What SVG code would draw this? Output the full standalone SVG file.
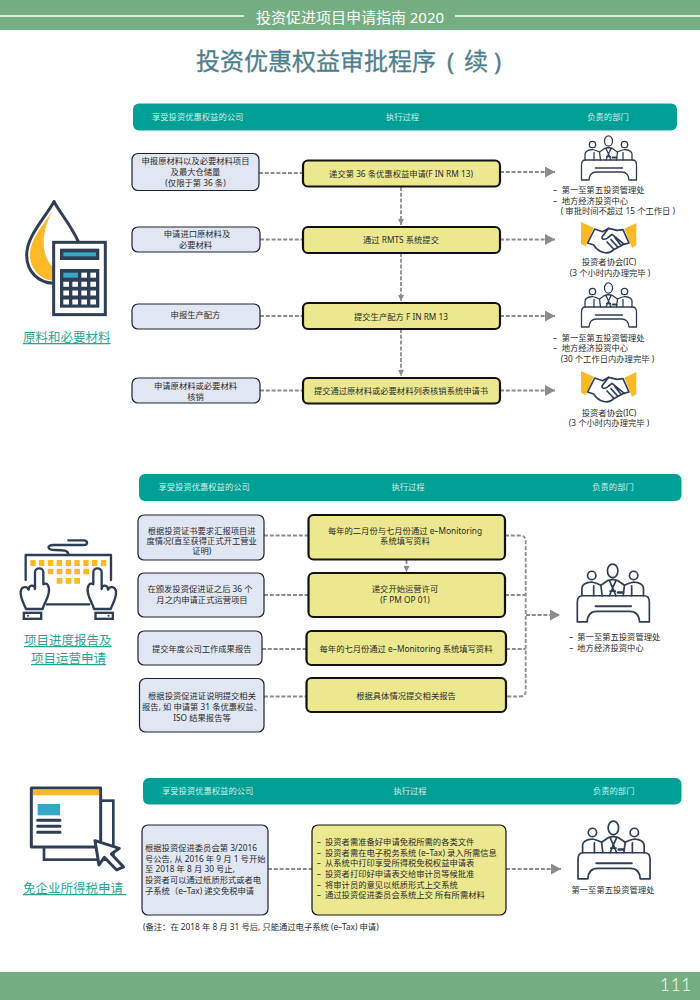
<svg xmlns="http://www.w3.org/2000/svg" width="700" height="1000" viewBox="0 0 700 1000">
<style>
text{font-family:"Noto Sans","Noto Sans CJK SC",sans-serif;font-size:8.3px;fill:#2b2b2b}
.m{text-anchor:middle}
.h{fill:#d4eeea}
.bar{fill:#00a096}
.l{fill:#e1e6f3;stroke:#1e2230;stroke-width:1.2}
.y{fill:#ebe88f;stroke:#111;stroke-width:2.2}
.c{fill:none;stroke:#8c8c8c;stroke-width:1.8;stroke-dasharray:4 1.8}
.sec{font-size:12.5px;fill:#2aa594;text-decoration:underline}
.n{fill:none;stroke:#2e3f55;stroke-width:9;stroke-linecap:round;stroke-linejoin:round}
.n2{fill:none;stroke:#2e3f55;stroke-width:5;stroke-linecap:round;stroke-linejoin:round}
</style>
<defs>
<marker id="a" markerUnits="userSpaceOnUse" markerWidth="11" markerHeight="12" refX="10" refY="5.500" orient="auto"><path d="M0 0L10 5.500L0 11Z" fill="#8c8c8c"/></marker>
<marker id="b" markerUnits="userSpaceOnUse" markerWidth="7" markerHeight="7" refX="6" refY="3" orient="auto"><path d="M0 0L6 3L0 6Z" fill="#8c8c8c"/></marker>
<g id="people" fill="none" stroke="#2e3f55" stroke-width="1.3" stroke-linejoin="round" stroke-linecap="round">
<path d="M1 45V30Q1 25 5 25H52Q56 25 56 30V45H48.500Q48 37 41 37H16Q9 37 8.500 45Z" fill="#fff"/>
<path d="M15 33H42" stroke-width="1.600"/>
<ellipse cx="28" cy="6" rx="4" ry="5.200"/><circle cx="12" cy="9.500" r="3.200"/><circle cx="44" cy="9.500" r="3.200"/>
<path d="M4.500 25V19Q5 16 9 15L12 14.500L15.500 15.500L19 17L20 25M13.500 17.500V25"/>
<path d="M51.500 25V19Q51 16 47 15L44 14.500L40.500 15.500L37 17L36 25M42.500 17.500V25"/>
<path d="M19 17L24 13.500L28 12.500L32 13.500L37 17M25.500 13.500L28 19L30.500 13.500M28 19L25.500 25M28 19L30.500 25M26 21.500H30"/>
<path d="M32 22.500H36" stroke-width="1.800"/>
</g>
<g id="hands">
<g transform="scale(.3333) translate(-692,-395)">
<path d="M692 395L730 412L706 468L692 460Z" fill="#fbb925"/><path d="M858 398L822 415L845 472L858 465Z" fill="#fbb925"/>
<g class="n2"><path d="M733 416L712 458L730 464C745 488 775 495 790 478L820 462L836 458L818 418L800 420L775 414L757 424L733 416Z"/>
<path d="M775 414L755 440C755 450 768 448 775 440L785 432L822 462M770 455L790 476M782 448L802 470M794 442L812 465"/></g>
</g></g>
</defs>

<g id="top-band"><rect width="700" height="30" fill="#75ae80"/><path d="M0 16H244M455 16H700" stroke="#fff" stroke-width="1.500"/><text x="350" y="23" class="m" style="font-size:15px;fill:#fff">投资促进项目申请指南 2020</text></g>
<text id="title" y="70" style="font-size:24px;fill:#4f7f8e;stroke:#4f7f8e;stroke-width:.3"><tspan x="196">投资优惠权益审批程序</tspan><tspan x="447">(</tspan><tspan x="464">续</tspan><tspan x="494">)</tspan></text>
<g id="footer"><rect y="972" width="700" height="28" fill="#75ae80"/><text x="676" y="991" class="m" style="font-family:Lato,sans-serif;font-size:17px;fill:#fff;font-weight:300;letter-spacing:.8px">111</text></g>

<g id="connectors">
<path class="c" d="M259 173H302M260 239.500H302M260 316H302M260 390.500H302"/>
<path class="c" marker-end="url(#a)" d="M500 172H555"/><path class="c" marker-end="url(#a)" d="M500 239.500H555"/><path class="c" marker-end="url(#a)" d="M500 316H555"/><path class="c" marker-end="url(#a)" d="M500 390.500H555"/>
<path class="c" marker-end="url(#b)" d="M401 187V225"/><path class="c" marker-end="url(#b)" d="M401 253V301"/><path class="c" marker-end="url(#b)" d="M401 329V376"/>
<path class="c" d="M264 535.500H308M264 595H308M262 649H306M264 696.500H306"/>
<path class="c" marker-end="url(#b)" d="M406.500 560V572"/>
<path class="c" d="M505 535.500H520Q525.700 535.500 525.700 541V691Q525.700 696.500 520 696.500H506M505 595H525.700M506 649H525.700"/>
<path class="c" marker-end="url(#a)" d="M526 615H560"/>
<path class="c" d="M268 869H312"/>
<path class="c" marker-end="url(#a)" d="M506 869H561"/>
</g>

<g id="section-1">
<g id="s1-header"><rect class="bar" x="133" y="103.500" width="544" height="27" rx="6"/><text class="h" x="152" y="119.500">享受投资优惠权益的公司</text><text class="h m" x="402.500" y="119.500">执行过程</text><text class="h m" x="608" y="119.500">负责的部门</text></g>
<g id="s1-icon"><g transform="translate(0,90) scale(.3333)">
<path d="M162 335C130 390 80 440 80 495C80 545 115 578 160 580" class="n" fill="#fff" style="fill:#fff"/><path d="M162 335C185 375 215 410 235 455" class="n"/>
<path d="M158 362C125 410 90 450 90 495C90 535 120 568 158 572V530C130 505 115 440 158 362Z" fill="#fbb925"/>
<rect x="161" y="457" width="155" height="217" fill="#fff" class="n" style="fill:#fff;stroke-linecap:butt;stroke-linejoin:miter"/>
<rect x="180" y="476" width="118" height="34" fill="#2e3f55"/><rect x="190" y="487" width="98" height="12" fill="#35a8c6"/>
<rect x="180" y="537" width="118" height="116" fill="#2e3f55"/>
<rect x="190" y="548" width="44" height="15" fill="#35a8c6"/><rect x="244" y="548" width="17" height="15" fill="#fff"/><rect x="271" y="548" width="17" height="15" fill="#fff"/>
<path d="M190 583h17M217 583h17M244 583h17M271 583h17M190 609h17M217 609h17M244 609h17M271 609h17M190 636h17M217 636h17M244 636h17M271 636h17" stroke="#fff" stroke-width="15"/>
</g><text class="sec" x="23" y="342">原料和必要材料</text></g>

<g id="s1-a1"><rect class="l" x="132" y="153.500" width="127" height="37" rx="6"/><text class="m" x="195.500" y="164">申报原材料以及必要材料项目</text><text class="m" x="195.500" y="175">及最大仓储量</text><text class="m" x="195.500" y="185.500">(仅限于第 36 条)</text></g>
<g id="s1-a2"><rect class="l" x="132" y="227" width="128" height="25" rx="6"/><text class="m" x="197" y="237">申请进口原材料及</text><text class="m" x="195.500" y="247.700">必要材料</text></g>
<g id="s1-a3"><rect class="l" x="132" y="304" width="128" height="25" rx="6"/><text class="m" x="195.500" y="318">申报生产配方</text></g>
<g id="s1-a4"><rect class="l" x="132" y="378" width="128" height="25" rx="6"/><text class="m" x="195.500" y="389">申请原材料或必要材料</text><text class="m" x="195.500" y="399.500">核销</text></g>

<g id="s1-b1"><rect class="y" x="303" y="160.500" width="197" height="26" rx="5"/><text class="m" x="401" y="177">递交第 36 条优惠权益申请(F IN RM 13)</text></g>
<g id="s1-b2"><rect class="y" x="303" y="227" width="197" height="26" rx="5"/><text class="m" x="401" y="242.500">通过 RMTS 系统提交</text></g>
<g id="s1-b3"><rect class="y" x="303" y="303" width="197" height="26" rx="5"/><text class="m" x="401" y="320">提交生产配方 F IN RM 13</text></g>
<g id="s1-b4"><rect class="y" x="303" y="378" width="197" height="25.500" rx="5"/><text class="m" x="401" y="394">提交通过原材料或必要材料列表核销系统申请书</text></g>

<g id="s1-c1"><use href="#people" transform="translate(580.500,135)"/><text x="553" y="193">–</text><text x="561.700" y="193">第一至第五投资管理处</text><text x="553" y="203.500">–</text><text x="561.700" y="203.500">地方经济投资中心</text><text x="560.700" y="214">( 审批时间不超过 15 个工作日 )</text></g>
<g id="s1-c2"><use href="#hands" transform="translate(581,222)"/><text class="m" x="609" y="264.500">投资者协会(IC)</text><text class="m" x="610" y="275.500">(3 个小时内办理完毕 )</text></g>
<g id="s1-c3"><use href="#people" transform="translate(580.500,282)"/><text x="553" y="340.500">–</text><text x="561.700" y="340.500">第一至第五投资管理处</text><text x="553" y="351">–</text><text x="561.700" y="351">地方经济投资中心</text><text x="560.700" y="362">(30 个工作日内办理完毕 )</text></g>
<g id="s1-c4"><use href="#hands" transform="translate(581,371)"/><text class="m" x="609" y="415.500">投资者协会(IC)</text><text class="m" x="609" y="426">(3 个小时内办理完毕 )</text></g>
</g>

<g id="section-2">
<g id="s2-header"><rect class="bar" x="139" y="474" width="542.500" height="27" rx="6"/><text class="h" x="158.500" y="490">享受投资优惠权益的公司</text><text class="h m" x="408" y="490">执行过程</text><text class="h m" x="613" y="490">负责的部门</text></g>
<g id="s2-icon"><g transform="translate(0,465) scale(.3333)">
<path class="n2" style="stroke-width:7" d="M77 345V270H333V345M140 418H268M205 268C205 255 190 255 165 255C140 255 140 240 160 240H250C265 240 265 226 250 226H205"/>
<g fill="#fbb925"><path d="M91 285h16v18h-16zM117 285h16v18h-16zM144 285h16v18h-16zM170 285h16v18h-16zM197 285h16v18h-16zM223 285h16v18h-16zM250 285h16v18h-16zM276 285h16v18h-16zM303 285h16v18h-16zM143 311h17v17h-17zM170 311h17v17h-17zM197 311h17v17h-17zM223 311h17v17h-17zM250 311h17v17h-17zM170 339h17v17h-17zM197 339h17v17h-17zM223 339h17v17h-17z"/></g>
<g id="kb-hand"><path class="n2" style="stroke-width:7;fill:#fff" d="M78 432C70 412 60 398 62 380C64 364 80 362 86 374C86 358 104 358 105 372V322C105 306 130 306 130 322V358C142 350 150 365 146 385C142 405 132 415 128 432Z"/><rect x="68" y="440" width="59" height="25" fill="#2e3f55"/><rect x="75" y="447" width="45" height="11" fill="#fff"/><circle cx="84" cy="452" r="3" fill="#2e3f55"/></g>
<use href="#kb-hand" transform="translate(410,0) scale(-1,1)"/>
</g><text class="sec" x="24" y="645">项目进度报告及</text><text class="sec" x="31" y="663">项目运营申请</text></g>

<g id="s2-a1"><rect class="l" x="138" y="515" width="126" height="45" rx="6"/><text class="m" x="201.700" y="533.500">根据投资证书要求汇报项目进</text><text class="m" x="201.700" y="543.500">度情况(直至获得正式开工营业</text><text class="m" x="201.700" y="553.500">证明)</text></g>
<g id="s2-a2"><rect class="l" x="138" y="573" width="126" height="44" rx="6"/><text class="m" x="200" y="592">在颁发投资促进证之后 36 个</text><text class="m" x="202" y="603">月之内申请正式运营项目</text></g>
<g id="s2-a3"><rect class="l" x="138" y="631" width="124" height="34" rx="6"/><text class="m" x="201.700" y="651.500">提交年度公司工作成果报告</text></g>
<g id="s2-a4"><rect class="l" x="139.500" y="678.500" width="124.500" height="53.500" rx="6"/><text class="m" x="202" y="699">根据投资促进证说明提交相关</text><text class="m" x="202" y="710">报告, 如 申请第 31 条优惠权益、</text><text class="m" x="202" y="720.500">ISO 结果报告等</text></g>

<g id="s2-b1"><rect class="y" x="308.500" y="515" width="196.500" height="44.500" rx="5"/><text class="m" x="405" y="533.500">每年的二月份与七月份通过 e–Monitoring</text><text class="m" x="405" y="544">系统填写资料</text></g>
<g id="s2-b2"><rect class="y" x="308.500" y="573" width="196.500" height="44" rx="5"/><text class="m" x="405" y="592">递交开始运营许可</text><text class="m" x="405" y="603">(F PM OP 01)</text></g>
<g id="s2-b3"><rect class="y" x="306.500" y="631" width="199.500" height="34" rx="5"/><text class="m" x="406" y="651.500">每年的七月份通过 e–Monitoring 系统填写资料</text></g>
<g id="s2-b4"><rect class="y" x="306.500" y="678" width="199.500" height="34" rx="5"/><text class="m" x="406" y="699">根据具体情况提交相关报告</text></g>

<g id="s2-c"><use href="#people" transform="translate(576,563) scale(1.310)"/><text x="569.300" y="640">–</text><text x="577.300" y="640">第一至第五投资管理处</text><text x="569.300" y="650.500">–</text><text x="577.300" y="650.500">地方经济投资中心</text></g>
</g>

<g id="section-3">
<g id="s3-header"><rect class="bar" x="143" y="778" width="538.500" height="26.500" rx="6"/><text class="h" x="162" y="794">享受投资优惠权益的公司</text><text class="h m" x="410" y="794">执行过程</text><text class="h m" x="613.700" y="794">负责的部门</text></g>
<g id="s3-icon"><g transform="translate(0,770) scale(.3333)">
<rect class="n" style="fill:#fff;stroke-width:8;stroke-linejoin:miter" x="132" y="92" width="208" height="177"/>
<rect class="n" style="fill:#fff;stroke-width:9;stroke-linejoin:round" x="94" y="54" width="208" height="177"/>
<rect x="99" y="59" width="198" height="17" fill="#fbb925"/><rect x="113" y="102" width="67" height="34" fill="#35a8c6"/>
<path class="n" d="M113 151H180M113 169H180M113 187H180"/>
<path class="n" style="fill:#fff" d="M285 212L358 235L334 252L371 291L350 300L313 262L297 285Z"/>
</g><text class="sec" x="23" y="893">免企业所得税申请&#160;</text></g>

<g id="s3-a"><rect class="l" x="142" y="825" width="126" height="90" rx="6"/><text x="145" y="851">根据投资促进委员会第 3/2016</text><text x="145" y="861.700">号公告, 从 2016 年 9 月 1 号开始</text><text x="145" y="872.300">至 2018 年 8 月 30 号止,</text><text x="145" y="883">投资者可以通过纸质形式或者电</text><text x="145" y="893.700">子系统（e–Tax) 递交免税申请</text></g>
<g id="s3-b"><rect class="y" style="stroke-width:1.200" x="312" y="825" width="194" height="90" rx="6"/>
<text x="316.700" y="845">–</text><text x="325" y="845">投资者需准备好申请免税所需的各类文件</text>
<text x="316.700" y="855.500">–</text><text x="325" y="855.500">投资者需在电子税务系统 (e–Tax) 录入所需信息</text>
<text x="316.700" y="866">–</text><text x="325" y="866">从系统中打印享受所得税免税权益申请表</text>
<text x="316.700" y="877">–</text><text x="325" y="877">投资者打印好申请表交给审计员等候批准</text>
<text x="316.700" y="887.500">–</text><text x="325" y="887.500">将审计员的意见以纸质形式上交系统</text>
<text x="316.700" y="898">–</text><text x="325" y="898">通过投资促进委员会系统上交 所有所需材料</text></g>
<g id="s3-c"><use href="#people" transform="translate(576.700,820) scale(1.310)"/><text class="m" x="613" y="893">第一至第五投资管理处</text></g>
<text id="s3-note" x="143" y="930">(备注：在 2018 年 8 月 31 号后, 只能通过电子系统 (e–Tax) 申请)</text>
</g>
</svg>
